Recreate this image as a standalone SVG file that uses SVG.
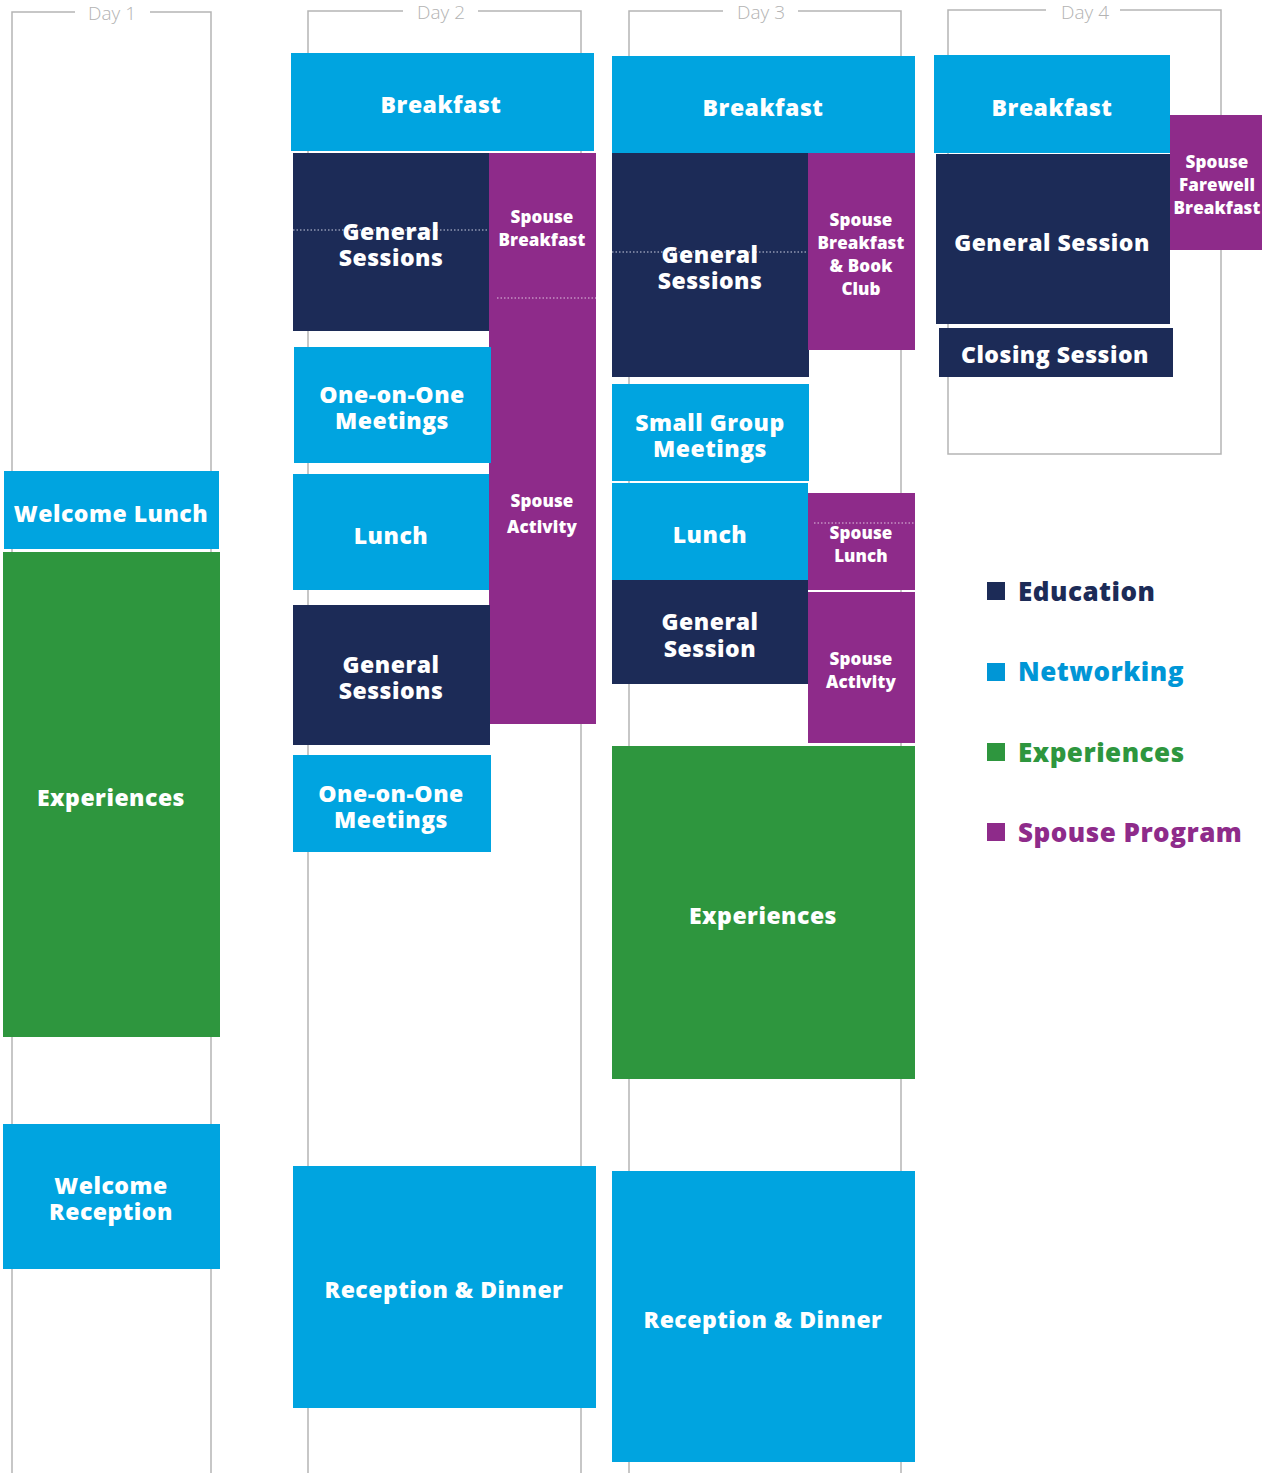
<svg xmlns="http://www.w3.org/2000/svg" width="1262" height="1473" viewBox="0 0 1262 1473">
<style>
.frame{fill:none;stroke:#b5b5b5;stroke-width:1.5}
.day{font-family:"Open Sans","Liberation Sans",sans-serif;font-weight:300;font-size:19px;fill:#b3b3b3;text-anchor:middle}
.net{fill:#00a4e0}
.edu{fill:#1c2b57}
.exp{fill:#2e963e}
.sp{fill:#8e2b8a}
.t{font-family:"Open Sans","Liberation Sans",sans-serif;font-weight:800;font-size:23px;fill:#ffffff;text-anchor:middle;letter-spacing:0.5px}
.ts{font-family:"Open Sans","Liberation Sans",sans-serif;font-weight:800;font-size:17px;fill:#ffffff;text-anchor:middle;letter-spacing:0.1px}
.dot{stroke:#c9cde0;stroke-width:1.2;stroke-dasharray:1.5 2;fill:none}
.dotp{stroke:#e0c4e0;stroke-width:1.2;stroke-dasharray:1.5 2;fill:none}
.lg{font-family:"Open Sans","Liberation Sans",sans-serif;font-weight:800;font-size:26px;letter-spacing:0.5px}
</style>
<rect width="1262" height="1473" fill="#ffffff"/>
<g id="day-frames">
<path class="frame" d="M12 1473 V12 H75 M150 12 H211 V1473"/>
<text class="day" x="112" y="20">Day 1</text>
<path class="frame" d="M308 1473 V11 H403 M478 11 H581 V1473"/>
<text class="day" x="441" y="19">Day 2</text>
<path class="frame" d="M629 1473 V11 H723 M798 11 H901 V1473"/>
<text class="day" x="761" y="19">Day 3</text>
<path class="frame" d="M1046 10 H948 V454 H1221 V10 H1120"/>
<text class="day" x="1085" y="19">Day 4</text>
</g>
<g id="connectors"></g>
<!-- Day 1 -->
<g id="d1-welcome-lunch"><rect class="net" x="4" y="471" width="215" height="78"/><text class="t" x="111" y="522">Welcome Lunch</text></g>
<g id="d1-experiences"><rect class="exp" x="3" y="552" width="217" height="485"/><text class="t" x="111" y="806">Experiences</text></g>
<g id="d1-welcome-reception"><rect class="net" x="3" y="1124" width="217" height="145"/><text class="t" x="111" y="1194">Welcome</text><text class="t" x="111" y="1220">Reception</text></g>
<!-- Day 2 -->
<g id="d2-breakfast"><rect class="net" x="291" y="53" width="303" height="98"/><text class="t" x="441" y="113">Breakfast</text></g>
<g id="d2-general-sessions-1"><rect class="edu" x="293" y="153" width="196" height="178"/><line class="dot" x1="293" y1="230" x2="489" y2="230"/><text class="t" x="391" y="240">General</text><text class="t" x="391" y="266">Sessions</text></g>
<g id="d2-spouse-breakfast"><rect class="sp" x="489" y="153" width="107" height="146"/><text class="ts" x="542" y="223">Spouse</text><text class="ts" x="542" y="246">Breakfast</text></g>
<g id="d2-spouse-activity"><rect class="sp" x="489" y="298" width="107" height="426"/><line class="dotp" x1="497" y1="298" x2="596" y2="298"/><text class="ts" x="542" y="507">Spouse</text><text class="ts" x="542" y="533">Activity</text></g>
<g id="d2-one-on-one-1"><rect class="net" x="294" y="347" width="197" height="116"/><text class="t" x="392" y="403">One-on-One</text><text class="t" x="392" y="429">Meetings</text></g>
<g id="d2-lunch"><rect class="net" x="293" y="474" width="196" height="116"/><text class="t" x="391" y="544">Lunch</text></g>
<g id="d2-general-sessions-2"><rect class="edu" x="293" y="605" width="197" height="140"/><text class="t" x="391" y="673">General</text><text class="t" x="391" y="699">Sessions</text></g>
<g id="d2-one-on-one-2"><rect class="net" x="293" y="755" width="198" height="97"/><text class="t" x="391" y="802">One-on-One</text><text class="t" x="391" y="828">Meetings</text></g>
<g id="d2-reception-dinner"><rect class="net" x="293" y="1166" width="303" height="242"/><text class="t" x="444" y="1298">Reception &amp; Dinner</text></g>
<!-- Day 3 -->
<g id="d3-breakfast"><rect class="net" x="612" y="56" width="303" height="97"/><text class="t" x="763" y="116">Breakfast</text></g>
<g id="d3-general-sessions"><rect class="edu" x="612" y="153" width="197" height="224"/><line class="dot" x1="612" y1="252" x2="808" y2="252"/><text class="t" x="710" y="263">General</text><text class="t" x="710" y="289">Sessions</text></g>
<g id="d3-spouse-breakfast-book"><rect class="sp" x="808" y="153" width="107" height="197"/><text class="ts" x="861" y="226">Spouse</text><text class="ts" x="861" y="249">Breakfast</text><text class="ts" x="861" y="272">&amp; Book</text><text class="ts" x="861" y="295">Club</text></g>
<g id="d3-small-group"><rect class="net" x="612" y="384" width="197" height="97"/><text class="t" x="710" y="431">Small Group</text><text class="t" x="710" y="457">Meetings</text></g>
<g id="d3-lunch"><rect class="net" x="612" y="483" width="196" height="97"/><text class="t" x="710" y="543">Lunch</text></g>
<g id="d3-spouse-lunch"><rect class="sp" x="808" y="493" width="107" height="97"/><line class="dotp" x1="814" y1="523" x2="915" y2="523"/><text class="ts" x="861" y="539">Spouse</text><text class="ts" x="861" y="562">Lunch</text></g>
<g id="d3-general-session"><rect class="edu" x="612" y="580" width="196" height="104"/><text class="t" x="710" y="630">General</text><text class="t" x="710" y="657">Session</text></g>
<g id="d3-spouse-activity"><rect class="sp" x="808" y="592" width="107" height="151"/><text class="ts" x="861" y="665">Spouse</text><text class="ts" x="861" y="688">Activity</text></g>
<g id="d3-experiences"><rect class="exp" x="612" y="746" width="303" height="333"/><text class="t" x="763" y="924">Experiences</text></g>
<g id="d3-reception-dinner"><rect class="net" x="612" y="1171" width="303" height="291"/><text class="t" x="763" y="1328">Reception &amp; Dinner</text></g>
<!-- Day 4 -->
<g id="d4-breakfast"><rect class="net" x="934" y="55" width="236" height="98"/><text class="t" x="1052" y="116">Breakfast</text></g>
<g id="d4-general-session"><rect class="edu" x="936" y="154" width="234" height="170"/><text class="t" x="1052" y="251">General Session</text></g>
<g id="d4-closing-session"><rect class="edu" x="939" y="328" width="234" height="49"/><text class="t" x="1055" y="363">Closing Session</text></g>
<g id="d4-spouse-farewell"><rect class="sp" x="1170" y="115" width="92" height="135"/><text class="ts" x="1217" y="168">Spouse</text><text class="ts" x="1217" y="191">Farewell</text><text class="ts" x="1217" y="214">Breakfast</text></g>
<!-- Legend -->
<g id="legend">
<rect x="987" y="582" width="18" height="18" fill="#1c2b57"/><text class="lg" x="1018" y="601" fill="#1c2b57">Education</text>
<rect x="987" y="663" width="18" height="18" fill="#0096d6"/><text class="lg" x="1018" y="681" fill="#0096d6">Networking</text>
<rect x="987" y="743" width="18" height="18" fill="#2e963e"/><text class="lg" x="1018" y="762" fill="#2e963e">Experiences</text>
<rect x="987" y="823" width="18" height="18" fill="#8e2b8a"/><text class="lg" x="1018" y="842" fill="#8e2b8a">Spouse Program</text>
</g>
</svg>
